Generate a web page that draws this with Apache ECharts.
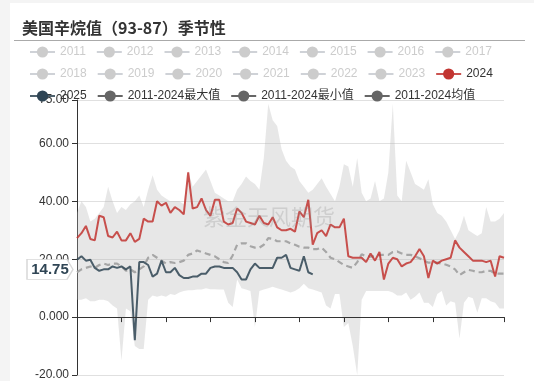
<!DOCTYPE html>
<html>
<head>
<meta charset="utf-8">
<script src="https://cdn.jsdelivr.net/npm/echarts@6/dist/echarts.min.js"></script>
<style>
html,body{margin:0;padding:0;background:#f4f4f4;width:534px;height:381px;overflow:hidden;}
#c{position:absolute;left:10px;top:3px;width:524px;height:378px;background:#fff;}
</style>
</head>
<body>
<div id="c"></div>
<script>
// ---- data ----
const years = ['2011','2012','2013','2014','2015','2016','2017','2018','2019','2020','2021','2022','2023'];
const nPoints = 97; // sample points across the seasonal year (MM-DD categories)
const tickIdx = [0,10,20,30,40,50,60,70,80,96];
const yTicks = {min:-20, max:75, interval:20};

const s2024 = [27.3,29,31.5,27,26.5,35,34.5,28,27.5,29.5,
  26.5,26.5,29,26,27,34,33,33,40,38.5,
  39.5,36,38,37,35.5,50,37.5,38,41,37,
  35,40.5,40.5,33,32,32.5,37.5,36,33,32.5,
  32,35,32.5,32,34.5,31,30,30,30.5,29.5,
  36.5,34.5,40.5,25,29,30,28,32,31,31,
  34,21,20.5,20.5,20.5,19,22,19.5,22.5,13,
  18.5,20.5,20,17.5,18.5,19,21,23.5,21,13.5,
  19.5,18.5,19.5,20,20.5,26.5,24,22.5,21,19.5,
  19.5,19.5,19,19.5,14,21,20.5];

const s2025 = [19.8,21,19.5,19.8,17,16,16.5,16.5,17.5,17,
  17.5,16.5,17.5,-8,19,19,18,14,15,19.5,
  15.5,15.5,17,14.5,13.5,13.5,14,14,15,15,
  17,17.5,17.5,17,17,17,15.5,13,13,16.5,
  18.5,17,17,17,17,20.5,20.5,21.5,17,16.5,
  16,21,15.5,14.75];

const sMax = [36,40,38,33,34,36,38,45,40,36,
  38,37,39,40,42,38,44,49,44,42,
  41,40,40,40,39,50.5,45,47,49,51,
  47,43,42,41,40,40,44,46,48.6,47,
  46,44,55,73.7,68,66,58,54,52,51,
  47,45,43,44,46,48,45,42.5,40,45,
  52.8,52,45,55,43,40,41,47,40,41,
  50,73.7,42,40,54,50,46,45,44,47.6,
  39,36,35,33,30,27,30,35,30,29,
  28,29,38,33,33,34,36];

const sMin = [6,6,6.5,5.5,5.5,6,6,5.5,4,3,
  -15,3,2,-10,-11,-11,6,7.5,7,7.5,
  7,8,7.6,8.5,9,9.3,9.3,9.5,9.5,10,
  9.6,9.6,9.5,9.5,5,3.5,13,10,9.5,9,
  -3.4,9,9.5,10,10.5,10,9.5,9,8.5,9,
  10,11.5,10,9.5,9,8.5,4,3,8,8,
  -3.4,-2,-10,-20,6,9,9,9,9,9,
  9,8.5,7.5,7.5,8.5,6,7,8.5,5,5,
  3.5,8,9,4,5.5,5,-7.4,5,7,6.5,
  1.5,6.5,6.5,5.5,5,3,3];

const sMean = [15.5,16.5,17,17.5,17,18,18.5,18,18.5,18.5,
  17.5,16,16.5,15.5,16.5,17.5,20.5,21.5,20.5,19.5,
  18.5,19,18.7,19,19.5,21.5,22,23,22.5,22,
  21.5,21,20,19,18.7,21.3,25,25.5,25.5,24.5,
  24,24,25,27.3,27,26.2,26.2,26.2,25.5,25,
  24.3,24,24,23.5,23.5,24,22.5,20.5,20,19,
  18,17.5,17,19,21.7,21,20.9,21,21.5,21.5,
  21.5,22.5,22.7,22,21.5,21.5,21,20.3,19.5,18.8,
  18.8,18.8,18.5,18.1,17.5,16.5,14.5,15.5,16.3,16,
  15.5,15.5,16,16,15,15,15];

// category labels MM-DD
const categories = [];
(function(){
  const start = Date.UTC(2024,0,1);
  for (let i = 0; i < nPoints; i++) {
    const d = new Date(start + Math.round(i * 365 / (nPoints - 1)) * 86400000);
    categories.push(String(d.getUTCMonth()+1).padStart(2,'0') + '-' + String(d.getUTCDate()).padStart(2,'0'));
  }
})();

const nameMax = '2011-2024最大值', nameMin = '2011-2024最小值', nameMean = '2011-2024均值';
const FONT = "'Liberation Sans','Noto Sans CJK SC',sans-serif";

const chart = echarts.init(document.getElementById('c'), null, {renderer:'canvas'});

const band = sMax.map((v,i)=> +(v - sMin[i]).toFixed(3));
const series = [];
years.forEach(y => series.push({name:y, type:'line', data:[], symbol:'circle', showSymbol:false}));
series.push({
  name: nameMin, type:'line', data: sMin, stack:'band', stackStrategy:'all',
  symbol:'circle', showSymbol:false, itemStyle:{color:'#666'},
  lineStyle:{opacity:0}, z:1
});
series.push({
  name: nameMax, type:'line', data: band, stack:'band', stackStrategy:'all',
  symbol:'circle', showSymbol:false, itemStyle:{color:'#666'},
  lineStyle:{opacity:0}, areaStyle:{color:'rgba(180,180,180,0.45)'}, z:1
});
series.push({
  name: nameMean, type:'line', data: sMean, symbol:'circle', showSymbol:false,
  itemStyle:{color:'#666'}, lineStyle:{color:'#a6a6a6', width:2.2, type:[6,4]}, z:3
});
series.push({
  name:'2024', type:'line', data: s2024, symbol:'circle', showSymbol:false,
  itemStyle:{color:'#c23531'}, lineStyle:{color:'#c23531', width:2, opacity:0.85}, z:4
});
series.push({
  name:'2025', type:'line', data: s2025, symbol:'circle', showSymbol:false,
  itemStyle:{color:'#2f4554'}, lineStyle:{color:'#2f4554', width:2, opacity:0.85}, z:5,
  markPoint: {
    symbol: 'path://M0 0 H40 L46 10 L40 20 H0 Z',
    symbolSize: [46, 20],
    symbolKeepAspect: false,
    symbolOffset: [-27, -5],
    itemStyle: {color:'#fff', borderColor:'#d8d8d8', borderWidth:1},
    label: {show:true, position:'inside', color:'#2f4554', fontSize:15, fontWeight:'bold', fontFamily:FONT,
      formatter: p => Number(p.value).toFixed(2)},
    data: [{coord:[categories[0], s2025[s2025.length-1]], value: s2025[s2025.length-1]}]
  }
});

const legendData = years.map(y => ({name:y}));
legendData.push({name:'2024'});
legendData.push({name:'2025'});
[nameMax, nameMin, nameMean].forEach(n => legendData.push({
  name:n, itemStyle:{color:'#666'}, lineStyle:{color:'#666', opacity:1, width:2, type:'solid'}
}));

const selected = {};
years.forEach(y => selected[y] = false);

chart.setOption({
  animation:false,
  textStyle:{fontFamily:FONT},
  title:{
    text:'美国辛烷值（93-87）季节性', left:7, top:12,
    textStyle:{fontSize:16, fontWeight:'bold', color:'#333', fontFamily:"'Noto Sans CJK SC',sans-serif"}
  },
  legend:{
    data: legendData, selected: selected, left:14, top:38, width:480,
    itemGap:10, itemWidth:25, itemHeight:14,
    textStyle:{fontSize:12, color:'#333', fontFamily:FONT},
    inactiveColor:'#ccc'
  },
  grid:{left:67, right:30, top:97, bottom:6, containLabel:false},
  xAxis:{
    type:'category', data: categories, boundaryGap:false, z:10,
    axisLine:{show:true, onZero:true, lineStyle:{color:'#333'}},
    axisTick:{show:true, length:5, lineStyle:{color:'#333'}, interval:(idx)=> tickIdx.indexOf(idx) >= 0},
    axisLabel:{show:false},
    splitLine:{show:false}
  },
  yAxis:{
    type:'value', min:yTicks.min, max:yTicks.max, interval:yTicks.interval,
    axisLine:{show:true, lineStyle:{color:'#333'}},
    axisTick:{show:true, length:5, lineStyle:{color:'#333'}},
    axisLabel:{color:'#333', fontSize:12, margin:8, fontFamily:FONT,
      formatter: v => v === 0 ? '0.000' : v.toFixed(2)},
    splitLine:{show:true, lineStyle:{color:'#e0e0e0'}}
  },
  graphic:[
    {type:'line', shape:{x1:4, y1:37.5, x2:515, y2:37.5}, style:{stroke:'#aaa', lineWidth:1}, silent:true},
    {type:'text', z:100, silent:true, x:259, y:214,
      style:{text:'紫金天风期货', fontSize:22, fill:'rgba(140,140,140,0.28)', textAlign:'center', textVerticalAlign:'middle',
        fontFamily:"'Noto Sans CJK SC',sans-serif"}}
  ],
  series: series
});
</script>
</body>
</html>
